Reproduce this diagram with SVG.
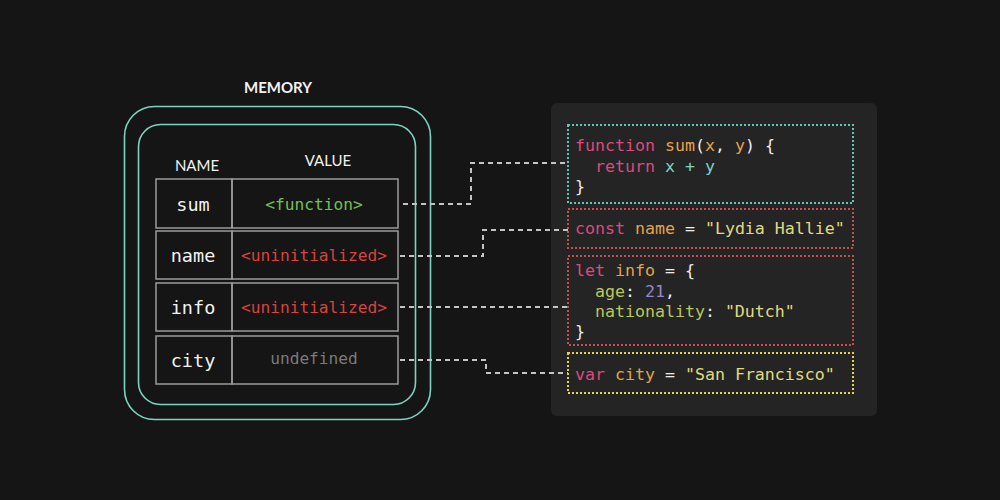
<svg xmlns="http://www.w3.org/2000/svg" width="1000" height="500" viewBox="0 0 1000 500">
<style>
.hdr{font-family:Lato,"Open Sans",sans-serif;fill:#f2f2f2;text-anchor:middle}
.cell{fill:none;stroke:#9a9a9a;stroke-width:1.5}
.nm{font-family:"DejaVu Sans Mono",monospace;font-size:18.5px;fill:#f2f2f2;text-anchor:middle}
.val{font-family:"DejaVu Sans Mono",monospace;font-size:16.2px;text-anchor:middle}
.code{font-family:"DejaVu Sans Mono",monospace;font-size:16.6px;fill:#eeeeee;white-space:pre}
.kw{fill:#dd4a7c}.fn{fill:#e6a24a}.pl{fill:#eeeeee}.id{fill:#7fd3c4}.st{fill:#e3d97f}.pr{fill:#b9c95a}.nu{fill:#9487d0}
.conn{fill:none;stroke:#c4c4c4;stroke-width:2;stroke-dasharray:5 4}
.dot{fill:none;stroke-width:2;stroke-dasharray:2 2}
</style>
<rect width="1000" height="500" fill="#151515"/>
<g id="memory">
<text class="hdr" x="278" y="93" font-size="15" font-weight="bold">MEMORY</text>
<rect x="124.5" y="106.5" width="306" height="313" rx="30" fill="none" stroke="#7dd3c0" stroke-width="1.6"/>
<rect x="138.5" y="124.5" width="277" height="280" rx="22" fill="none" stroke="#7dd3c0" stroke-width="1.6"/>
<text class="hdr" x="197" y="171" font-size="15">NAME</text>
<text class="hdr" x="328" y="166" font-size="15">VALUE</text>
</g>
<g id="row-sum">
<rect class="cell" x="156" y="179" width="76" height="49"/>
<rect class="cell" x="232" y="179" width="166" height="49"/>
<text class="nm" x="193" y="211">sum</text>
<text class="val" x="314" y="210" fill="#74c04f">&lt;function&gt;</text>
</g>
<g id="row-name">
<rect class="cell" x="156" y="231" width="76" height="48"/>
<rect class="cell" x="232" y="231" width="166" height="48"/>
<text class="nm" x="193" y="262">name</text>
<text class="val" x="314" y="261" fill="#d9433b">&lt;uninitialized&gt;</text>
</g>
<g id="row-info">
<rect class="cell" x="156" y="283" width="76" height="48"/>
<rect class="cell" x="232" y="283" width="166" height="48"/>
<text class="nm" x="193" y="314">info</text>
<text class="val" x="314" y="313" fill="#d9433b">&lt;uninitialized&gt;</text>
</g>
<g id="row-city">
<rect class="cell" x="156" y="336" width="76" height="48"/>
<rect class="cell" x="232" y="336" width="166" height="48"/>
<text class="nm" x="193" y="367">city</text>
<text class="val" x="314" y="364" fill="#7a7a7a">undefined</text>
</g>
<g id="code-panel">
<rect x="551" y="103" width="326" height="313" rx="6" fill="#242424"/>
</g>
<g id="connectors">
<path class="conn" d="M403 204 H471 V163 H568"/>
<path class="conn" d="M400 256 H483 V230 H568"/>
<path class="conn" d="M400 307 H568"/>
<path class="conn" d="M400 360 H486 V373 H568"/>
</g>
<g id="code-sum">
<rect class="dot" x="568" y="125" width="285" height="78" stroke="#5fc7b3"/>
<text class="code" x="575" y="151"><tspan class="kw">function</tspan> <tspan class="fn">sum</tspan>(<tspan class="fn">x</tspan>, <tspan class="fn">y</tspan>) {</text>
<text class="code" x="575" y="172">  <tspan class="kw">return</tspan> <tspan class="id">x + y</tspan></text>
<text class="code" x="575" y="192">}</text>
</g>
<g id="code-name">
<rect class="dot" x="568" y="209" width="285" height="39" stroke="#c4504e"/>
<text class="code" x="575" y="234"><tspan class="kw">const</tspan> <tspan class="fn">name</tspan> = <tspan class="st">"Lydia Hallie"</tspan></text>
</g>
<g id="code-info">
<rect class="dot" x="568" y="256" width="285" height="89" stroke="#c4504e"/>
<text class="code" x="575" y="276"><tspan class="kw">let</tspan> <tspan class="fn">info</tspan> = {</text>
<text class="code" x="575" y="297">  <tspan class="pr">age</tspan>: <tspan class="nu">21</tspan>,</text>
<text class="code" x="575" y="317">  <tspan class="pr">nationality</tspan>: <tspan class="st">"Dutch"</tspan></text>
<text class="code" x="575" y="337">}</text>
</g>
<g id="code-city">
<rect class="dot" x="568" y="353" width="285" height="40" stroke="#e2d54a"/>
<text class="code" x="575" y="380"><tspan class="kw">var</tspan> <tspan class="fn">city</tspan> = <tspan class="st">"San Francisco"</tspan></text>
</g>
</svg>
